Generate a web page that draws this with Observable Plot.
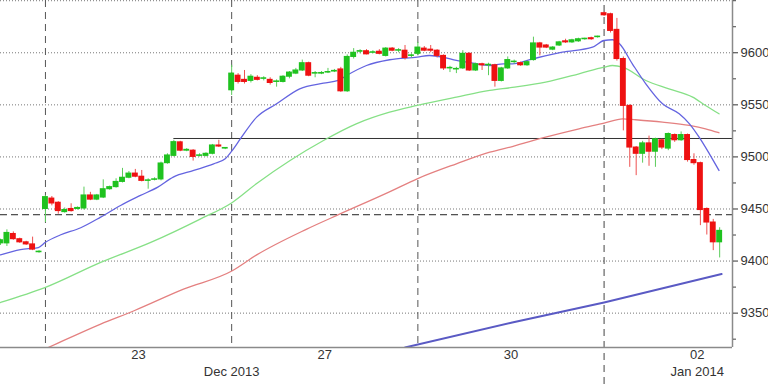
<!DOCTYPE html>
<html><head><meta charset="utf-8">
<script src="https://cdn.jsdelivr.net/npm/d3@7"></script>
<script src="https://cdn.jsdelivr.net/npm/@observablehq/plot@0.6"></script>
<style>
html,body{margin:0;padding:0;background:#fff;}
#chart{width:768px;height:384px;overflow:hidden;}
</style></head><body><div id="chart"></div>
<script>
// Candle OHLC values, one per bar slot (slot index = array index)
const open = [
 9417, 9417, 9426, 9421, 9418, 9416, 9408.5,
 9450, 9460, 9456, 9447, 9450, 9450, 9450.5, 9463, 9459, 9461, 9469, 9471, 9476, 9480, 9484, 9481, 9477, 9478, 9478.4, 9494, 9501, 9514, 9506, 9506, 9501, 9501, 9503, 9511, 9508,
 9564, 9578, 9574, 9573, 9576, 9575, 9574, 9572, 9572, 9577, 9580, 9583, 9590, 9580, 9580, 9581, 9582, 9584, 9563, 9596, 9601, 9601.5, 9600, 9601, 9597, 9604, 9602, 9602, 9597,
 9599, 9604, 9603, 9602, 9597, 9585, 9584, 9585, 9599, 9583, 9589, 9588, 9588, 9573, 9585, 9591, 9590, 9588, 9593, 9609, 9607, 9603, 9607, 9611, 9610, 9611, 9613, 9614, 9615,
 9638, 9637, 9622, 9594, 9549, 9509, 9503, 9513, 9505, 9516, 9508, 9521, 9516, 9521, 9497, 9494, 9450, 9437, 9418
];
const high = [
 9421, 9430, 9428, 9422, 9419, 9423, 9410,
 9463, 9462, 9457, 9451, 9455, 9452, 9471, 9466, 9464, 9478, 9472, 9479, 9489, 9486, 9488, 9487, 9479, 9480, 9495, 9503, 9516, 9515, 9508, 9507, 9503, 9504, 9512, 9516, 9509,
 9588, 9580, 9583, 9579, 9578, 9577, 9576, 9574, 9578, 9582, 9585, 9593, 9591, 9582, 9582, 9585, 9584, 9586, 9598, 9604, 9603, 9603, 9602, 9603, 9605, 9605, 9604, 9607, 9599,
 9610, 9606, 9607, 9603, 9598, 9587, 9586, 9602, 9600, 9590, 9590, 9590, 9589, 9586, 9596, 9593, 9591, 9592, 9615, 9610, 9608, 9606, 9611, 9613, 9613, 9614, 9614, 9615, 9616,
 9639, 9638, 9633, 9596, 9550, 9510, 9515, 9520, 9518, 9517, 9523, 9522, 9524, 9522, 9503, 9495, 9451, 9440, 9432
];
const low = [
 9415, 9414, 9420, 9417, 9415, 9410, 9407.5,
 9437, 9453, 9445, 9446, 9447, 9449, 9449, 9458, 9458, 9460, 9468, 9470, 9475, 9479, 9480, 9476, 9469, 9477, 9477, 9493, 9500, 9505, 9505, 9496, 9500, 9500, 9502, 9509, 9507,
 9559, 9570, 9570, 9571, 9573, 9573, 9569, 9567, 9571, 9575, 9579, 9582, 9577, 9576, 9579, 9580, 9581, 9562, 9562, 9594, 9599, 9598, 9599, 9598, 9596, 9601, 9600, 9593, 9595,
 9597, 9601, 9600, 9595, 9583, 9581, 9580, 9584, 9582, 9582, 9583, 9578, 9567, 9572, 9584, 9589, 9587, 9587, 9592, 9597, 9604, 9602, 9606, 9609, 9609, 9610, 9612, 9612, 9614,
 9635, 9619, 9592, 9525, 9490, 9482, 9494, 9491, 9490, 9507, 9506, 9514, 9515, 9495, 9492, 9434, 9425, 9410, 9403
];
const close = [
 9420, 9427, 9421, 9418, 9416, 9411, 9409,
 9461.4, 9455.3, 9448, 9449, 9448, 9451, 9463, 9459, 9463, 9469, 9471, 9476, 9480, 9484, 9481, 9477, 9477.5, 9478.5, 9493.7, 9501.4, 9514.2, 9506, 9506.8, 9500, 9501.5, 9503, 9511, 9510, 9508.6,
 9580, 9572, 9572, 9577, 9574, 9575.5, 9571, 9572.5, 9577, 9581, 9583, 9590, 9578, 9580.5, 9580.6, 9581.5, 9582.6, 9563, 9596, 9600, 9601.6, 9598.5, 9600.5, 9599, 9604, 9602, 9602.5, 9595, 9597.5,
 9605, 9602, 9602, 9597, 9585, 9585.5, 9584.5, 9599, 9583, 9589, 9588, 9588.5, 9573, 9585, 9593, 9591.5, 9588, 9591, 9609, 9605, 9605, 9605, 9610, 9610, 9612, 9613, 9613.5, 9613, 9615.5,
 9636, 9621, 9594, 9549, 9509, 9503, 9513, 9505, 9517, 9509, 9522, 9516, 9521, 9497, 9494, 9449, 9437, 9418, 9429
];

// Moving averages (slot position, value)
const maFastX = [0, 3.1, 5.9, 7, 9.3, 12.5, 15.6, 18.7, 21.8, 24.5, 26.9, 30.1, 33.2, 35, 36.1, 37.4, 39.9, 43, 46.6, 50.3, 52.6, 53.9, 57, 60.6, 64.9, 66.8, 68.9, 71, 73.6, 76.2, 78.3, 79.7, 82.9, 87.5, 92.2, 94, 95.3, 96.4, 98.4, 100.5, 103.1, 105.7, 107.3, 108.8, 110.4, 111.9];
const maFastV = [9406, 9411, 9413, 9418, 9425, 9432, 9442.2, 9453.4, 9463, 9471, 9480.6, 9487, 9493.4, 9498.2, 9506.2, 9517.7, 9538.2, 9551, 9565.4, 9570.8, 9573.4, 9578.2, 9587.8, 9593.3, 9595.8, 9597.4, 9595.8, 9592.6, 9590, 9587.8, 9589.4, 9589.4, 9594.2, 9600.6, 9605.4, 9611.8, 9612.5, 9608.6, 9589.4, 9570.2, 9551, 9541.4, 9531.8, 9519, 9503, 9487];
const maMidX = [0, 7, 15.6, 23.4, 31.1, 36.1, 39.9, 45.1, 50.3, 55.4, 60.6, 64.9, 71, 76.2, 79.7, 84.9, 90.1, 94, 95.3, 96.9, 100.5, 104.1, 107.8, 109.8, 111.9];
const maMidV = [9360.2, 9374.7, 9398.7, 9417.9, 9440.3, 9456.3, 9474.5, 9496.6, 9515.8, 9531.8, 9543, 9549.4, 9557.4, 9563.8, 9566.7, 9571.8, 9579.8, 9586.2, 9587.8, 9586.2, 9573.4, 9565.4, 9557.4, 9549.4, 9541.4];
const maLongX = [0, 7.5, 15.6, 20.8, 28.5, 36.1, 39.9, 47.7, 52.8, 60.4, 64.9, 71, 76.2, 79.7, 84.9, 90.1, 94, 96.9, 98.9, 103.1, 107.3, 109.8, 111.9];
const maLongV = [9296, 9317.1, 9339.5, 9352.3, 9373, 9390.7, 9405.9, 9430.7, 9445, 9465.9, 9479, 9493.4, 9504.6, 9510, 9519, 9527, 9532.4, 9536.6, 9535.7, 9533.4, 9530.2, 9527, 9523.2];
const maSlowX = [63, 79.7, 94, 112.3];
const maSlowV = [9317, 9341, 9360.3, 9387.5];

// Reference levels
const resistanceLevel = 9517.7, resistanceFrom = 27;
const dashedLevel = 9444.5;

// Axes
const dayStarts = [7, 36, 65, 94];
const yearBreak = 94;
const dayLabels = ["23", "27", "30", "02"];
const dayPos = [21.5, 50.5, 79.5, 108.5];
const monthLabels = ["Dec 2013", "Jan 2014"];
const monthPos = [36, 108.5];
const yMajor = [9350, 9400, 9450, 9500, 9550, 9600];
const yGrid = [9350, 9400, 9450, 9500, 9550, 9600, 9650];
const yMinor = [9325, 9375, 9425, 9475, 9525, 9575, 9625, 9650];

const yMin = 9317, yMax = 9650.2, xMax = 114;
const H = 384, W = 768, mB = 37, mR = 36;
const yBelow = yMin - mB * (yMax - yMin) / (H - mB);

const candles = open.map((o, i) => ({i, o, h: high[i], l: low[i], c: close[i], up: close[i] >= o}));
const line = (xs, vs) => xs.map((x, k) => ({x, v: vs[k]}));

const chart = Plot.plot({
  width: W, height: H,
  marginLeft: 0, marginRight: mR, marginTop: 0, marginBottom: mB,
  x: {domain: [0, xMax], axis: null},
  y: {domain: [yMin, yMax], axis: null},
  style: {fontFamily: "'Liberation Sans', Arial, sans-serif", fontSize: "13px", color: "#333", background: "#fff", overflow: "visible"},
  marks: [
    Plot.gridY(yGrid, {stroke: "#777", strokeOpacity: 1, strokeDasharray: "1,2"}),
    Plot.ruleX(dayStarts.filter(d => d !== yearBreak), {stroke: "#555", strokeDasharray: "7,5"}),
    Plot.ruleX([yearBreak], {y1: yBelow, y2: yMax, stroke: "#444", strokeDasharray: "7,5"}),
    Plot.ruleY([dashedLevel], {stroke: "#222", strokeDasharray: "7,4"}),
    Plot.ruleY([resistanceLevel], {x1: resistanceFrom, x2: xMax, stroke: "#333"}),
    Plot.line(line(maSlowX, maSlowV), {x: "x", y: "v", stroke: "#5a5ac4", strokeWidth: 2, clip: true}),
    Plot.line(line(maLongX, maLongV), {x: "x", y: "v", stroke: "#e48080", strokeWidth: 1.3, curve: "monotone-x", clip: true}),
    Plot.line(line(maMidX, maMidV), {x: "x", y: "v", stroke: "#86e086", strokeWidth: 1.3, curve: "monotone-x", clip: true}),
    Plot.line(line(maFastX, maFastV), {x: "x", y: "v", stroke: "#6464e0", strokeWidth: 1.3, curve: "monotone-x", clip: true}),
    Plot.ruleX(candles, {x: "i", y1: d => Math.min(d.l, d.o, d.c), y2: d => Math.max(d.h, d.o, d.c),
      stroke: d => d.up ? "#5ccc5c" : "#ee5050", strokeWidth: 1, clip: true}),
    Plot.rect(candles, {x1: d => d.i - 0.46, x2: d => d.i + 0.46,
      y1: d => Math.min(d.o, d.c) - 0.5, y2: d => Math.max(d.o, d.c) + 0.5,
      fill: d => d.up ? "#1fc21f" : "#ee1111", clip: true}),
    Plot.ruleX([xMax], {stroke: "#8a8a8a", strokeWidth: 1.5}),
    Plot.ruleY([yMin], {stroke: "#8a8a8a", strokeWidth: 1.5}),
    Plot.axisY(yMinor, {anchor: "right", label: null, tickSize: 3, tickFormat: () => "", stroke: "#444"}),
    Plot.axisY(yMajor, {anchor: "right", label: null, tickSize: 5, tickPadding: 3, tickFormat: d => String(d), stroke: "#333", fill: "#333", fontSize: 13}),
    Plot.text(dayLabels, {x: dayPos, text: d => d, frameAnchor: "bottom", dy: 11, fill: "#333", fontSize: 13}),
    Plot.text(monthLabels, {x: monthPos, text: d => d, frameAnchor: "bottom", dy: 28, fill: "#333", fontSize: 13})
  ]
});
document.getElementById("chart").appendChild(chart);
</script>
</body></html>
